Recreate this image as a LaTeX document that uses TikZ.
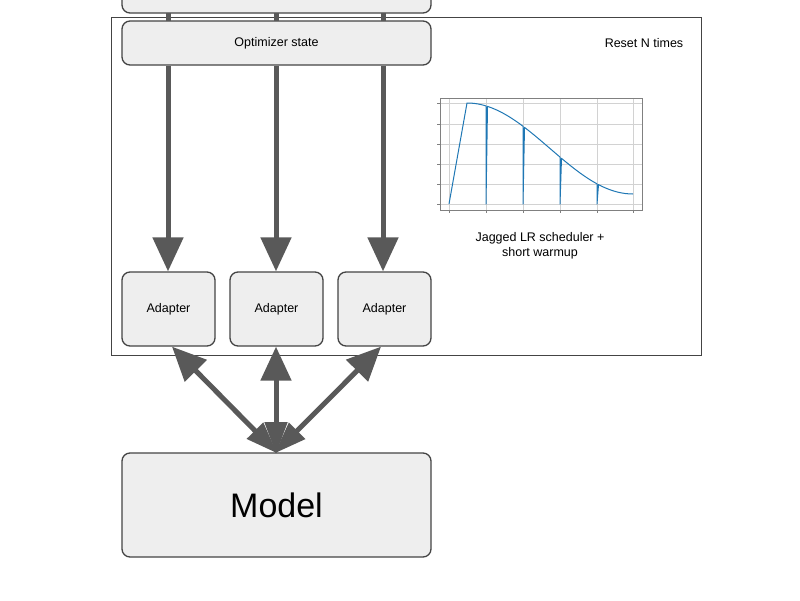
\documentclass[tikz,border=0pt]{standalone}
\usepackage{fontspec}
\setmainfont{Liberation Sans}
\usetikzlibrary{arrows.meta}
\definecolor{bx}{HTML}{EEEEEE}
\definecolor{ln}{HTML}{444444}
\definecolor{ar}{HTML}{595959}
\definecolor{cb}{HTML}{1F77B4}
\begin{document}
\begin{tikzpicture}[x=1pt,y=-1pt,
  declare function={lr(\t)=194-45.5*(1+cos(1.0843*(\t-467)));},
  box/.style={draw=ln,line width=1.3pt,fill=bx,rounded corners=8pt},
  big/.style={draw=ar,line width=5pt,-{Triangle[width=30pt,length=34pt]}},
  bi/.style={draw=ar,line width=5pt,{Triangle[width=22pt,length=32pt]}-{Triangle[width=30pt,length=34pt]},shorten <=-2pt},
  stub/.style={draw=ar,line width=5pt}]
\useasboundingbox (0,0) rectangle (800,600);
\draw[ln,line width=1pt] (111,17) rectangle (701,355);
\node[font=\fontsize{12.5}{14}\selectfont] (reset) at (644,43) {Reset N times};
\draw[box] (122,-20) rectangle (431,13);
\coordinate (t1) at (168,13); \coordinate (t2) at (276,13); \coordinate (t3) at (383,13);
\node[box,minimum width=309pt,minimum height=44pt,font=\fontsize{12.5}{14}\selectfont] (opt) at (276.5,43) {Optimizer state};
\foreach \x/\n in {168/1,276/2,383/3}{\coordinate (o\n) at (\x,21); \draw[stub] (t\n) -- (o\n);}
\node[box,minimum width=93pt,minimum height=74pt,font=\fontsize{12.5}{14}\selectfont] (a1) at (168.5,309) {Adapter};
\node[box,minimum width=93pt,minimum height=74pt,font=\fontsize{12.5}{14}\selectfont] (a2) at (276.5,309) {Adapter};
\node[box,minimum width=93pt,minimum height=74pt,font=\fontsize{12.5}{14}\selectfont] (a3) at (384.5,309) {Adapter};
\node[box,minimum width=309pt,minimum height=104pt,font=\fontsize{34}{40}\selectfont] (model) at (276.5,505) {Model};
\draw[big] (opt.south -| 168,0) -- (a1.north -| 168,0);
\draw[big] (opt.south -| 276,0) -- (a2.north -| 276,0);
\draw[big] (opt.south -| 383,0) -- (a3.north -| 383,0);
\coordinate (m) at (276,452);
\draw[bi] (m) -- (a1.south -| 172,0);
\draw[bi] (m) -- (a2.south -| 276,0);
\draw[bi] (m) -- (a3.south -| 381,0);
% chart
\foreach \x in {449,486,523,560,597,633}{\draw[gray!35,line width=0.6pt] (\x,98) -- (\x,210); \draw[gray,line width=0.5pt] (\x,210) -- (\x,213);}
\foreach \y in {103,124,144,164,184,204}{\draw[gray!35,line width=0.6pt] (440,\y) -- (642,\y); \draw[gray,line width=0.5pt] (437,\y) -- (440,\y);}
\draw[gray,line width=0.7pt] (440,98) rectangle (642,210);
\draw[cb,line width=1pt,line join=round] (449,204) -- (467,103)
 -- plot[domain=467:486,samples=8] (\x,{lr(\x)}) -- (486,204)
 -- plot[domain=487.5:523,samples=10] (\x,{lr(\x)}) -- (523,204)
 -- plot[domain=524.5:560,samples=10] (\x,{lr(\x)}) -- (560,204)
 -- plot[domain=561.5:597,samples=10] (\x,{lr(\x)}) -- (597,204)
 -- plot[domain=598.5:633,samples=10] (\x,{lr(\x)});
\node[font=\fontsize{12.5}{15}\selectfont,align=center] (cap) at (540,246) {Jagged LR scheduler +\\short warmup};
\end{tikzpicture}
\end{document}
